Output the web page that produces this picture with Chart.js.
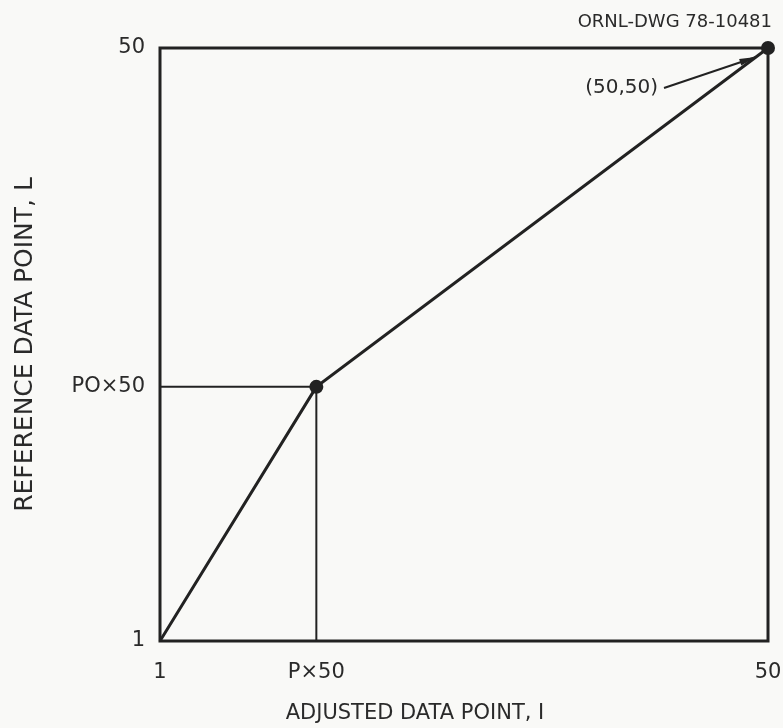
<!DOCTYPE html>
<html>
<head>
<meta charset="utf-8">
<script src="https://cdn.jsdelivr.net/npm/chart.js@4"></script>
<style>
  html, body { margin: 0; padding: 0; background: #f9f9f7; }
  #wrap { width: 783px; height: 728px; }
</style>
</head>
<body>
<div id="wrap"><canvas id="chart" width="783" height="728"></canvas></div>
<script>
// values
const xTicks = [1, 13.6, 50];
const xTickLabels = ['1', 'P\u00d750', '50'];
const yTicks = [1, 22, 50];
const yTickLabels = ['1', 'PO\u00d750', '50'];

const curveX = [1, 13.6, 50];
const curveY = [1, 22, 50];
const dotRadius = [0, 7, 7];

const dropX = [13.6, 13.6];
const dropY = [1, 22];
const acrossX = [1, 13.6];
const acrossY = [22, 22];

const ink = '#222';
const txt = '#2a2a2a';
const font = 'DejaVu Sans';

function pts(xs, ys) { return xs.map((x, i) => ({ x: x, y: ys[i] })); }

// frame + the loose text of the drawing
const extras = {
  id: 'extras',
  beforeDatasetsDraw(chart) {
    const a = chart.chartArea, c = chart.ctx;
    c.save();
    c.strokeStyle = ink;
    c.lineWidth = 3;
    c.strokeRect(a.left, a.top, a.right - a.left, a.bottom - a.top);
    c.restore();
  },
  afterDraw(chart) {
    const c = chart.ctx;
    const xs = chart.scales.x, ys = chart.scales.y;
    c.save();
    c.fillStyle = txt;
    c.textBaseline = 'middle';
    c.textAlign = 'center';
    c.font = '21px "' + font + '"';
    c.fillText('ADJUSTED DATA POINT, I', 415, 714);
    c.textAlign = 'right';
    c.font = '18px "' + font + '"';
    c.fillText('ORNL-DWG 78-10481', 772, 22);
    c.font = '20px "' + font + '"';
    c.fillText('(50,50)', 658, 88);
    // arrow to the (50,50) point
    const tx = xs.getPixelForValue(50) - 12, ty = ys.getPixelForValue(50) + 9;
    const fx = 664, fy = 88;
    c.strokeStyle = ink;
    c.lineWidth = 2;
    c.beginPath(); c.moveTo(fx, fy); c.lineTo(tx, ty); c.stroke();
    const ang = Math.atan2(ty - fy, tx - fx);
    c.beginPath();
    c.moveTo(tx, ty);
    c.lineTo(tx - 17 * Math.cos(ang - 0.2), ty - 17 * Math.sin(ang - 0.2));
    c.lineTo(tx - 17 * Math.cos(ang + 0.2), ty - 17 * Math.sin(ang + 0.2));
    c.closePath();
    c.fillStyle = ink;
    c.fill();
    c.restore();
  }
};

new Chart(document.getElementById('chart'), {
  type: 'scatter',
  data: {
    datasets: [
      { data: pts(curveX, curveY), showLine: true, borderColor: ink, borderWidth: 3,
        pointRadius: dotRadius, pointBackgroundColor: ink, pointBorderWidth: 0, clip: false },
      { data: pts(dropX, dropY), showLine: true, borderColor: ink, borderWidth: 2, pointRadius: 0 },
      { data: pts(acrossX, acrossY), showLine: true, borderColor: ink, borderWidth: 2, pointRadius: 0 }
    ]
  },
  options: {
    responsive: false,
    animation: false,
    layout: { padding: { left: 0, right: 15, top: 48, bottom: 0 } },
    plugins: { legend: { display: false }, tooltip: { enabled: false } },
    scales: {
      x: {
        type: 'linear', min: 1, max: 50,
        grid: { display: false, drawTicks: false },
        border: { display: false },
        afterBuildTicks: s => { s.ticks = xTicks.map(v => ({ value: v })); },
        afterFit: s => { s.height = 87; s.paddingLeft = 0; s.paddingRight = 0; },
        ticks: { padding: 19, color: txt, font: { family: font, size: 21 },
          maxRotation: 0, autoSkip: false,
          callback: (v, i) => xTickLabels[i] }
      },
      y: {
        type: 'linear', min: 1, max: 50,
        grid: { display: false, drawTicks: false },
        border: { display: false },
        afterBuildTicks: s => { s.ticks = yTicks.map(v => ({ value: v })); },
        afterFit: s => { s.width = 160; s.paddingTop = 0; s.paddingBottom = 0; },
        ticks: { padding: 15, color: txt, font: { family: font, size: 21 },
          autoSkip: false,
          callback: (v, i) => yTickLabels[i] },
        title: { display: true, text: 'REFERENCE DATA POINT, L', color: txt,
          font: { family: font, size: 25 }, padding: { top: 10, bottom: 0 } }
      }
    }
  },
  plugins: [extras]
});
</script>
</body>
</html>
